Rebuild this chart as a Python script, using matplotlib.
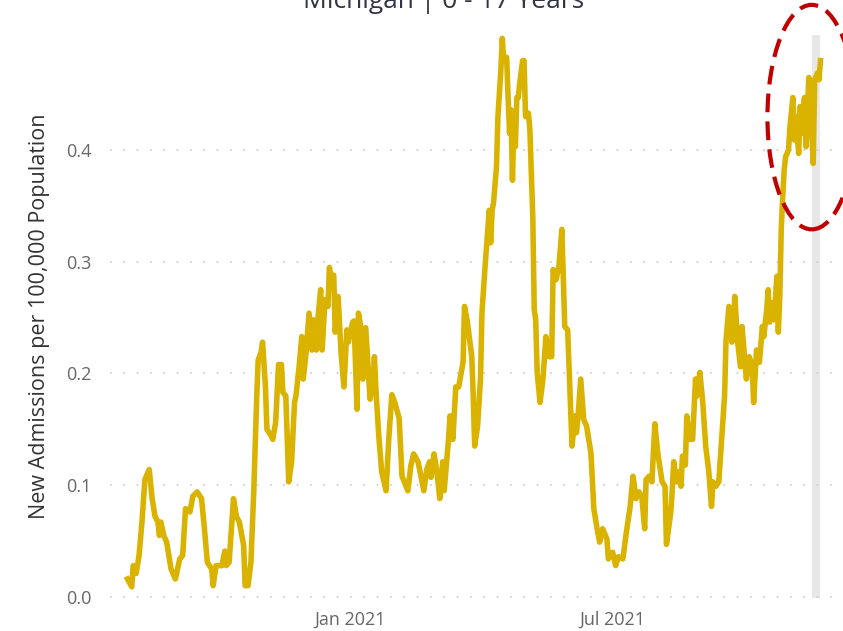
import pandas as pd
import numpy as np
import matplotlib
matplotlib.use("Agg")
import matplotlib.pyplot as plt
import matplotlib.dates as mdates
from matplotlib.patches import Ellipse

# days since 2020-08-01 and new admissions per 100k (0-17 years, Michigan)
start = pd.Timestamp("2020-08-01")
days = [0, 3, 4, 6, 8, 10, 12, 13, 15, 17, 19, 21, 22, 23, 25, 27, 30, 33, 36, 38,
        40, 43, 45, 48, 51, 53, 55, 58, 59, 61, 65, 67, 68, 70, 73, 75, 77, 80, 81, 83,
        85, 87, 89, 90, 92, 93, 95, 96, 99, 100, 102, 104, 106, 107, 109, 111, 113, 115, 116, 118,
        120, 121, 123, 125, 127, 128, 130, 131, 133, 134, 136, 138, 139, 140, 142, 143, 145, 147, 149, 151,
        152, 155, 156, 158, 159, 161, 162, 164, 167, 169, 170, 171, 173, 175, 178, 180, 182, 184, 187, 189,
        193, 195, 197, 200, 202, 204, 206, 208, 209, 211, 213, 215, 217, 218, 221, 222, 224, 226, 228, 231,
        232, 234, 237, 238, 239, 241, 243, 244, 246, 248, 249, 250, 251, 252, 254, 255, 257, 258, 259, 261,
        262, 263, 264, 265, 266, 267, 268, 269, 270, 272, 273, 274, 276, 277, 279, 280, 281, 282, 284, 286,
        288, 290, 292, 293, 295, 297, 299, 300, 301, 303, 305, 306, 308, 309, 310, 312, 314, 316, 319, 321,
        323, 325, 327, 330, 331, 334, 336, 338, 341, 343, 346, 348, 350, 352, 354, 356, 357, 359, 361, 363,
        365, 368, 370, 371, 374, 375, 376, 378, 379, 381, 382, 384, 385, 387, 389, 391, 392, 394, 396, 398,
        400, 402, 403, 405, 407, 409, 411, 412, 414, 416, 417, 418, 420, 422, 423, 425, 426, 428, 430, 431,
        433, 435, 437, 438, 440, 441, 442, 444, 445, 447, 448, 449, 450, 451, 452, 453, 455, 456, 458, 459,
        460, 462, 463, 464, 466, 467, 468, 469, 471, 472, 473, 475, 476, 477]
admissions = [0.016, 0.009, 0.028, 0.021, 0.037, 0.067, 0.105, 0.108, 0.114, 0.088, 0.072, 0.067, 0.055, 0.067, 0.055, 0.049, 0.025, 0.016, 0.034, 0.037,
              0.079, 0.076, 0.090, 0.094, 0.088, 0.061, 0.031, 0.025, 0.010, 0.028, 0.028, 0.041, 0.028, 0.031, 0.088, 0.072, 0.067, 0.046, 0.010, 0.010,
              0.031, 0.096, 0.180, 0.212, 0.219, 0.228, 0.188, 0.150, 0.144, 0.141, 0.156, 0.208, 0.208, 0.183, 0.180, 0.103, 0.121, 0.174, 0.180, 0.204,
              0.233, 0.195, 0.219, 0.254, 0.221, 0.248, 0.221, 0.248, 0.275, 0.221, 0.266, 0.260, 0.295, 0.287, 0.288, 0.237, 0.269, 0.219, 0.188, 0.239,
              0.228, 0.246, 0.247, 0.168, 0.254, 0.239, 0.195, 0.241, 0.177, 0.192, 0.215, 0.186, 0.144, 0.112, 0.095, 0.144, 0.181, 0.174, 0.160, 0.108,
              0.095, 0.117, 0.128, 0.121, 0.108, 0.095, 0.114, 0.121, 0.107, 0.128, 0.112, 0.088, 0.121, 0.095, 0.141, 0.162, 0.141, 0.188, 0.188, 0.210,
              0.260, 0.246, 0.215, 0.180, 0.135, 0.153, 0.195, 0.254, 0.293, 0.329, 0.346, 0.317, 0.346, 0.353, 0.385, 0.430, 0.471, 0.500, 0.480, 0.483,
              0.447, 0.415, 0.436, 0.373, 0.424, 0.403, 0.447, 0.447, 0.460, 0.480, 0.480, 0.430, 0.433, 0.418, 0.340, 0.257, 0.248, 0.201, 0.174, 0.195,
              0.233, 0.215, 0.215, 0.293, 0.284, 0.296, 0.329, 0.284, 0.242, 0.239, 0.171, 0.135, 0.162, 0.147, 0.159, 0.195, 0.159, 0.153, 0.129, 0.079,
              0.063, 0.049, 0.061, 0.052, 0.034, 0.040, 0.028, 0.036, 0.034, 0.054, 0.081, 0.108, 0.088, 0.094, 0.090, 0.061, 0.105, 0.108, 0.103, 0.155,
              0.129, 0.103, 0.099, 0.047, 0.076, 0.096, 0.121, 0.103, 0.112, 0.099, 0.126, 0.118, 0.162, 0.141, 0.141, 0.195, 0.180, 0.201, 0.174, 0.135,
              0.114, 0.081, 0.103, 0.099, 0.103, 0.141, 0.180, 0.230, 0.260, 0.228, 0.239, 0.269, 0.228, 0.206, 0.242, 0.210, 0.195, 0.215, 0.206, 0.174,
              0.221, 0.210, 0.242, 0.233, 0.257, 0.275, 0.246, 0.263, 0.248, 0.287, 0.237, 0.269, 0.329, 0.358, 0.382, 0.394, 0.400, 0.421, 0.447, 0.409,
              0.430, 0.397, 0.439, 0.415, 0.447, 0.403, 0.436, 0.465, 0.415, 0.388, 0.463, 0.469, 0.463, 0.480]
y_ticks = [0.0, 0.1, 0.2, 0.3, 0.4]
x_ticks = ["2021-01-01", "2021-07-01"]
x_labels = ["Jan 2021", "Jul 2021"]
# incomplete-data band at the end
band = ["2021-11-15", "2021-11-21"]

dates = start + pd.to_timedelta(days, unit="D")

plt.rcParams['font.family'] = ['Open Sans', 'DejaVu Sans']

fig = plt.figure(figsize=(8.43, 6.31), dpi=100)
ax = fig.add_axes([110 / 843, 33 / 631, 725 / 843, 563 / 631])

ax.axvspan(pd.Timestamp(band[0]), pd.Timestamp(band[1]), color="#e8e8e8", zorder=0, lw=0)
ax.plot(dates, admissions, color="#d9b300", lw=4, solid_joinstyle="round", zorder=3)

ax.set_xlim(pd.Timestamp("2020-07-20"), pd.Timestamp("2021-12-01"))
ax.set_ylim(-0.001, 0.503)

ax.set_yticks(y_ticks)
ax.set_yticklabels([f"{v:.1f}" for v in y_ticks])
ax.set_xticks([pd.Timestamp(d) for d in x_ticks])
ax.set_xticklabels(x_labels)
ax.tick_params(axis="both", length=0, labelsize=13, colors="#666666")
ax.tick_params(axis="y", pad=13)
ax.tick_params(axis="x", pad=9)

for v in y_ticks:
    ax.axhline(v, color="#c8c8c8", lw=1.2, ls=(0, (1, 7)), zorder=1)

for s in ax.spines.values():
    s.set_visible(False)

ax.set_ylabel("New Admissions per 100,000 Population", fontsize=15.5, color="#333333", labelpad=12)

fig.text(444 / 843, 1 - 8 / 631, "Michigan | 0 - 17 Years", ha="center", va="baseline",
         fontsize=19, color="#333344")

# red dashed highlight around the latest values
cx = mdates.date2num(start + pd.Timedelta(days=471))
ell = Ellipse((cx, 0.4295), width=61, height=0.201, fill=False, edgecolor="#c00000",
              lw=3, ls=(0, (4.5, 2.2)), clip_on=False, zorder=5)
ax.add_patch(ell)

fig.savefig("out.png", dpi=100)
